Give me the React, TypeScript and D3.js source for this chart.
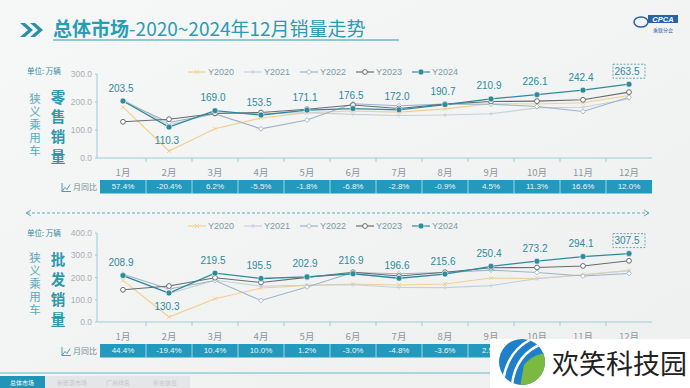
import React from 'react';
import * as d3 from 'd3';

const months = ['1月','2月','3月','4月','5月','6月','7月','8月','9月','10月','11月','12月'];
const seriesNames = ['Y2020','Y2021','Y2022','Y2023','Y2024'];

const retail2020 = [181.5,25.1,104.8,143.1,162.1,168.1,164.0,175.6,194.0,192.6,197.1,223.2];
const retail2021 = [208.8,117.7,161.2,158.0,162.1,155.8,151.8,153.5,157.9,178.9,181.2,210.6];
const retail2022 = [202.5,126.9,157.6,104.2,135.4,194.0,186.7,192.5,192.2,183.9,165.9,216.8];
const retail2023 = [129.3,138.6,159.1,162.4,174.2,189.4,177.0,192.4,201.8,203.1,207.9,235.3];
const retail2024 = [203.5,110.3,169.0,153.5,171.1,176.5,172.0,190.7,210.9,226.1,242.4,263.5];
const retailYoY = ['57.4%','-20.4%','6.2%','-5.5%','-1.8%','-6.8%','-2.8%','-0.9%','4.5%','11.3%','16.6%','12.0%'];
const retailTicks = [0,100,200,300];

const whole2020 = [187.0,22.4,104.6,152.5,164.4,170.9,166.4,171.0,197.9,195.6,212.0,232.2];
const whole2021 = [209.4,127.6,187.9,160.9,165.2,167.2,155.0,154.4,163.5,194.9,212.4,230.0];
const whole2022 = [214.7,148.1,186.3,96.5,157.6,222.2,217.0,222.8,233.3,222.8,206.6,218.0];
const whole2023 = [144.7,161.7,198.8,177.7,200.5,223.6,206.5,223.7,244.0,245.0,252.0,275.0];
const whole2024 = [208.9,130.3,219.5,195.5,202.9,216.9,196.6,215.6,250.4,273.2,294.1,307.5];
// cells after 9月 are hidden under the watermark in the reference
const wholeYoY = ['44.4%','-19.4%','10.4%','10.0%','1.2%','-3.0%','-4.8%','-3.6%','2.5%','','',''];
const wholeTicks = [0,100,200,300,400];

const colors = ['#f2cf8e','#c6d0da','#9fb3c6','#686c70','#2f8a9c'];
const TEAL = '#2f8a9c';
const CJK = '"Noto Sans CJK SC", "Noto Sans", sans-serif';
const NUM = '"Liberation Sans", Arial, sans-serif';

const x = d3.scaleBand<string>().domain(months).range([100, 652]);
const cx = (m: string) => (x(m) as number) + x.bandwidth() / 2;

function Marker({ kind, px, py, color }: { kind: number; px: number; py: number; color: string }) {
  if (kind === 4) return <circle cx={px} cy={py} r={3} fill={color} stroke="#fff" strokeWidth={0.6} />;
  if (kind === 3) return <circle cx={px} cy={py} r={2.4} fill="#fff" stroke={color} strokeWidth={1} />;
  if (kind === 2) return <path d={`M${px},${py - 2.4}L${px + 2.4},${py}L${px},${py + 2.4}L${px - 2.4},${py}Z`} fill="#fff" stroke={color} strokeWidth={0.9} />;
  if (kind === 0) return <path d={`M${px - 2},${py - 2}L${px + 2},${py + 2}M${px - 2},${py + 2}L${px + 2},${py - 2}`} stroke={color} strokeWidth={0.9} />;
  return <path d={`M${px - 2},${py}L${px + 2},${py}M${px},${py - 2}L${px},${py + 2}`} stroke={color} strokeWidth={0.9} />;
}

function Panel({ data, yoy, ticks, yMax, y0, y1, legendY, unitY, title, sideTop, titleYs }:
  { data: number[][]; yoy: string[]; ticks: number[]; yMax: number; y0: number; y1: number; legendY: number; unitY: number; title: string; sideTop: number; titleYs: [number, number] }) {
  const y = d3.scaleLinear().domain([0, yMax]).range([y0, y1]);
  const line = d3.line<number>().x((_, i) => cx(months[i])).y(d => y(d));
  const last = data[4];
  const tt = title.split('');
  const rowTop = y0 + 22;
  const rowH = 13.5;
  return (
    <g>
      <text x={27} y={unitY} fontSize={7.5} fill={TEAL} fontFamily={CJK}>单位: 万辆</text>
      <text x={35} y={sideTop} fontSize={11.5} fill="#5aaabb" fontFamily={CJK}
        style={{ writingMode: 'vertical-rl', letterSpacing: '1.5px' } as React.CSSProperties}>狭义乘用车</text>
      {tt.map((c, i) => (
        <text key={i} x={58} y={titleYs[0] + i * (titleYs[1] - titleYs[0]) / 3} fontSize={14.5} fontWeight={700} fill="#2d97ab" textAnchor="middle" dominantBaseline="central" fontFamily={CJK}>{c}</text>
      ))}
      {seriesNames.map((n, i) => {
        const lx = 188 + i * 56;
        return (
          <g key={n}>
            <line x1={lx} x2={lx + 18} y1={legendY} y2={legendY} stroke={colors[i]} strokeWidth={1.2} />
            <Marker kind={i} px={lx + 9} py={legendY} color={colors[i]} />
            <text x={lx + 20} y={legendY} dominantBaseline="central" fontSize={9} fill="#7c9aa6" fontFamily={NUM}>{n}</text>
          </g>
        );
      })}
      <line x1={97} x2={97} y1={y(yMax)} y2={y0} stroke="#9ccbd6" strokeWidth={1} />
      {ticks.map(t => (
        <g key={t}>
          <line x1={95} x2={97} y1={y(t)} y2={y(t)} stroke="#9ccbd6" />
          <text x={92} y={y(t)} textAnchor="end" dominantBaseline="central" fontSize={8.5} fill="#a9b0b4" fontFamily={NUM}>{t.toFixed(1)}</text>
        </g>
      ))}
      <line x1={97} x2={652} y1={y0} y2={y0} stroke="#9ccbd6" strokeWidth={1} />
      {months.map((m, i) => (
        <g key={m}>
          {i > 0 && <line x1={x(m)} x2={x(m)} y1={y0} y2={y0 + 4} stroke="#9ccbd6" />}
          <text x={cx(m)} y={y0 + 14} textAnchor="middle" dominantBaseline="central" fontSize={9.5} fill="#8c969b" fontFamily={CJK}>{m}</text>
        </g>
      ))}
      {data.map((s, k) => (
        <path key={k} d={line(s) as string} fill="none" stroke={colors[k]} strokeWidth={k === 4 ? 1.3 : 1.1} />
      ))}
      {data.map((s, k) => s.map((v, i) => (
        <Marker key={`${k}-${i}`} kind={k} px={cx(months[i])} py={y(v)} color={colors[k]} />
      )))}
      {last.map((v, i) => {
        const px = cx(months[i]);
        const below = i === 1;
        const ly = below ? y(v) + 13 : y(v) - 13;
        return (
          <g key={i}>
            {i === 11 && <rect x={px - 16} y={ly - 7} width={32} height={14} fill="none" stroke={TEAL} strokeWidth={0.7} strokeDasharray="2,1.5" />}
            <text x={px - 2} y={ly} textAnchor="middle" dominantBaseline="central" fontSize={10} fill={TEAL} fontFamily={NUM}>{v.toFixed(1)}</text>
          </g>
        );
      })}
      <path d={`M62,${rowTop + rowH - 2}l3,-4l2,2l3,-5 M62,${rowTop + rowH - 2}h9 M62,${rowTop + 3}v${rowH - 5}`} stroke="#4a8fa6" strokeWidth={0.9} fill="none" />
      <text x={73} y={rowTop + rowH / 2} dominantBaseline="central" fontSize={8} fill="#7a8e96" fontFamily={CJK}>月同比</text>
      <rect x={100} y={rowTop} width={552} height={rowH} fill="#2399bd" />
      {months.map((m, i) => (
        <g key={m}>
          {i > 0 && <line x1={x(m)} x2={x(m)} y1={rowTop} y2={rowTop + rowH} stroke="#bfe6f0" strokeWidth={0.8} />}
          {yoy[i] && <text x={cx(m)} y={rowTop + rowH / 2} textAnchor="middle" dominantBaseline="central" fontSize={8} fill="#e8f6fa" fontFamily={NUM}>{yoy[i]}</text>}
        </g>
      ))}
    </g>
  );
}

export default function App() {
  return (
    <svg width={690} height={388} viewBox="0 0 690 388" style={{ position: 'absolute', left: 0, top: 0, display: 'block' }}>
      <defs>
        <linearGradient id="bg" x1="0" y1="0" x2="1" y2="1">
          <stop offset="0" stopColor="#f6f7f7" />
          <stop offset="1" stopColor="#eef0f0" />
        </linearGradient>
        <clipPath id="wm"><circle cx={522} cy={362} r={23} /></clipPath>
      </defs>
      <rect width={690} height={388} fill="url(#bg)" />
      <path d="M20,23 L28,30 L20,37 L25,37 L33,30 L25,23Z M30,23 L38,30 L30,37 L35,37 L43,30 L35,23Z" fill="#2a8fa6" />
      <text x={53} y={36} fontSize={19} fill="#2a9cb4" fontFamily={CJK}>
        <tspan fontWeight={700}>总体市场</tspan><tspan>-2020~2024年12月销量走势</tspan>
      </text>
      <line x1={53} x2={399} y1={40} y2={40} stroke="#2a9cb4" strokeWidth={1.2} />
      <g>
        <ellipse cx={641} cy={22} rx={7} ry={5} fill="none" stroke="#2b5fa8" strokeWidth={1.5} />
        <rect x={648} y={15} width={30} height={8} fill="#2b5fa8" />
        <text x={663} y={19.5} textAnchor="middle" dominantBaseline="central" fontSize={7.5} fontWeight={700} fontStyle="italic" fill="#fff" fontFamily={NUM}>CPCA</text>
        <text x={663} y={29} textAnchor="middle" dominantBaseline="central" fontSize={5} fill="#2b5fa8" fontFamily={CJK}>乘联分会</text>
      </g>
      <Panel data={[retail2020, retail2021, retail2022, retail2023, retail2024]} yoy={retailYoY} ticks={retailTicks} yMax={300} y0={158} y1={74}
        legendY={72} unitY={74} title="零售销量" sideTop={93} titleYs={[96, 155]} />
      <line x1={27} x2={648} y1={213} y2={213} stroke="#3d9bb0" strokeWidth={0.8} strokeDasharray="3,2" />
      <path d="M31,210 L26,213 L31,216 M644,210 L649,213 L644,216" fill="none" stroke="#3d9bb0" strokeWidth={0.8} />
      <Panel data={[whole2020, whole2021, whole2022, whole2023, whole2024]} yoy={wholeYoY} ticks={wholeTicks} yMax={400} y0={322} y1={233}
        legendY={226} unitY={236} title="批发销量" sideTop={252} titleYs={[258, 318]} />
      <line x1={0} x2={500} y1={373} y2={373} stroke="#6bb7c9" strokeWidth={1} />
      <rect x={0} y={376} width={45} height={12} fill="#2195b6" />
      <text x={22} y={382} textAnchor="middle" dominantBaseline="central" fontSize={6} fill="#fff" fontFamily={CJK}>总体市场</text>
      <rect x={45} y={376} width={145} height={12} fill="#e4e6e7" />
      <text x={72} y={382} textAnchor="middle" dominantBaseline="central" fontSize={6} fill="#c4c8ca" fontFamily={CJK}>新能源市场</text>
      <text x={118} y={382} textAnchor="middle" dominantBaseline="central" fontSize={6} fill="#c4c8ca" fontFamily={CJK}>厂商排名</text>
      <text x={165} y={382} textAnchor="middle" dominantBaseline="central" fontSize={6} fill="#c4c8ca" fontFamily={CJK}>补充信息</text>
      <rect x={490} y={339} width={200} height={49} fill="#ffffff" />
      <g clipPath="url(#wm)">
        <rect x={499} y={339} width={46} height={46} fill="#1f7fc8" />
        <path d="M518,337 C540,341 548,353 548,363 L548,337Z" fill="#e58a3c" />
        <path d="M524,365 C530,357 540,353 548,353 L548,387 L520,387Z" fill="#7ab942" />
        <path d="M503,381 C506,361 516,345 536,337" fill="none" stroke="#fff" strokeWidth={2.5} />
        <path d="M512,385 C514,367 522,351 544,343" fill="none" stroke="#fff" strokeWidth={2.5} />
      </g>
      <text x={552} y={362} dominantBaseline="central" fontSize={27} fill="#222" fontFamily={CJK}>欢笑科技园</text>
    </svg>
  );
}
